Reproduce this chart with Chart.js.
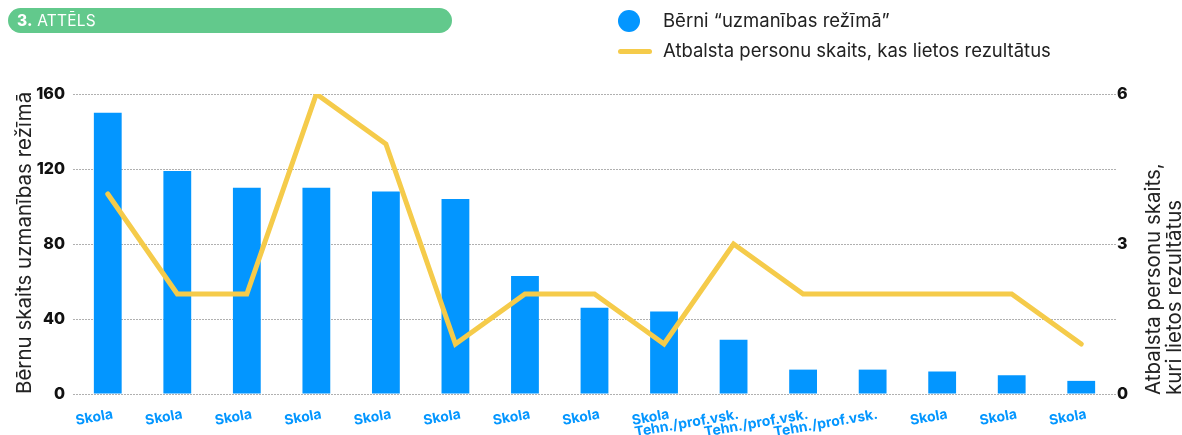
<!DOCTYPE html>
<html>
<head>
<meta charset="utf-8">
<script src="https://cdn.jsdelivr.net/npm/chart.js@4.4.1/dist/chart.umd.min.js"></script>
<style>
  html, body { margin: 0; padding: 0; background: #fff; }
  #wrap { position: relative; width: 1182px; height: 435px; overflow: hidden; font-family: Inter, "Noto Sans", sans-serif; }
  #c { position: absolute; left: 0; top: 0; }
  #badge { position: absolute; left: 8px; top: 8px; width: 444px; height: 25px; border-radius: 13px; background: #62C98C; color: #fff; font-size: 15.5px; line-height: 25px; box-sizing: border-box; padding-left: 9px; letter-spacing: 0.2px; }
  #badge b { font-weight: 800; }
  #legend { position: absolute; left: 612px; top: 5px; color: #222; font-size: 18.5px; }
  .li { position: relative; height: 30px; line-height: 30px; padding-left: 51px; white-space: nowrap; }
  .dot { position: absolute; left: 6px; top: 5px; width: 22px; height: 22px; border-radius: 50%; }
  .ln { position: absolute; left: 6px; top: 14px; width: 34px; height: 5px; border-radius: 3px; }
  #rtitle { position: absolute; left: 1142px; top: 395px; width: 320px; transform-origin: 0 0; transform: rotate(-90deg); font-size: 20.5px; line-height: 21px; color: #222; white-space: nowrap; }
</style>
</head>
<body>
<div id="wrap">
  <canvas id="c" width="1182" height="435"></canvas>
  <div id="badge"><b>3.</b> ATTĒLS</div>
  <div id="legend"></div>
  <div id="rtitle"></div>
</div>
<script>
const categories = ["Skola","Skola","Skola","Skola","Skola","Skola","Skola","Skola","Skola","Tehn./prof.vsk.","Tehn./prof.vsk.","Tehn./prof.vsk.","Skola","Skola","Skola"];
const childrenValues = [150, 119, 110, 110, 108, 104, 63, 46, 44, 29, 13, 13, 12, 10, 7];
const supportValues = [4, 2, 2, 6, 5, 1, 2, 2, 1, 3, 2, 2, 2, 2, 1];
const seriesLabels = ["Bērni “uzmanības režīmā”", "Atbalsta personu skaits, kas lietos rezultātus"];
const leftTicks = [0, 40, 80, 120, 160];
const rightTicks = [0, 3, 6];
const leftTitle = "Bērnu skaits uzmanības režīmā";
const rightTitle = ["Atbalsta personu skaits,", "kuri lietos rezultātus"];

const BLUE = "#0396FF";
const YELLOW = "#F5CB4A";

// HTML legend from series labels
const legend = document.getElementById('legend');
seriesLabels.forEach((lab, i) => {
  const d = document.createElement('div');
  d.className = 'li';
  const m = document.createElement('span');
  m.className = i === 0 ? 'dot' : 'ln';
  m.style.background = i === 0 ? BLUE : YELLOW;
  d.appendChild(m);
  d.appendChild(document.createTextNode(lab));
  legend.appendChild(d);
});
document.getElementById('rtitle').innerHTML = rightTitle.map(t => '<div>' + t + '</div>').join('');

const FONT = 'Inter, "Noto Sans", sans-serif';
new Chart(document.getElementById('c'), {
  data: {
    labels: categories,
    datasets: [
      {
        type: 'line', label: seriesLabels[1], data: supportValues, yAxisID: 'y1',
        borderColor: YELLOW, borderWidth: 5, pointRadius: 0, tension: 0,
        borderCapStyle: 'round', borderJoinStyle: 'miter', order: 0
      },
      {
        type: 'bar', label: seriesLabels[0], data: childrenValues, yAxisID: 'y',
        backgroundColor: BLUE, borderWidth: 0, barPercentage: 0.4, categoryPercentage: 1, order: 1
      }
    ]
  },
  options: {
    responsive: false, animation: false, devicePixelRatio: 1,
    layout: { padding: { top: 94, right: 0, left: 0, bottom: 0 } },
    plugins: { legend: { display: false }, tooltip: { enabled: false } },
    scales: {
      x: {
        grid: { display: false }, border: { display: false },
        afterFit: (s) => { s.height = 41; },
        ticks: { color: BLUE, font: { family: FONT, size: 14, weight: 'bold' }, autoSkip: false, minRotation: 10, maxRotation: 10, padding: 4, labelOffset: 5 }
      },
      y: {
        position: 'left', min: 0, max: 160,
        afterBuildTicks: (s) => { s.ticks = leftTicks.map(v => ({ value: v })); },
        afterFit: (s) => { s.width = 73; },
        grid: { color: '#b0b0b0', drawTicks: false, lineWidth: 1 },
        border: { display: false, dash: [2, 1] },
        ticks: { color: '#111', font: { family: FONT, size: 16, weight: '800' }, padding: 8 },
        title: { display: true, text: leftTitle, align: 'start', color: '#222', font: { family: FONT, size: 20.5 }, padding: { top: 13, bottom: 0 } }
      },
      y1: {
        position: 'right', min: 0, max: 6,
        afterBuildTicks: (s) => { s.ticks = rightTicks.map(v => ({ value: v })); },
        afterFit: (s) => { s.width = 66; },
        grid: { drawOnChartArea: false, drawTicks: false }, border: { display: false },
        ticks: { color: '#111', font: { family: FONT, size: 16, weight: '800' }, padding: 1 }
      }
    }
  }
});
</script>
</body>
</html>
